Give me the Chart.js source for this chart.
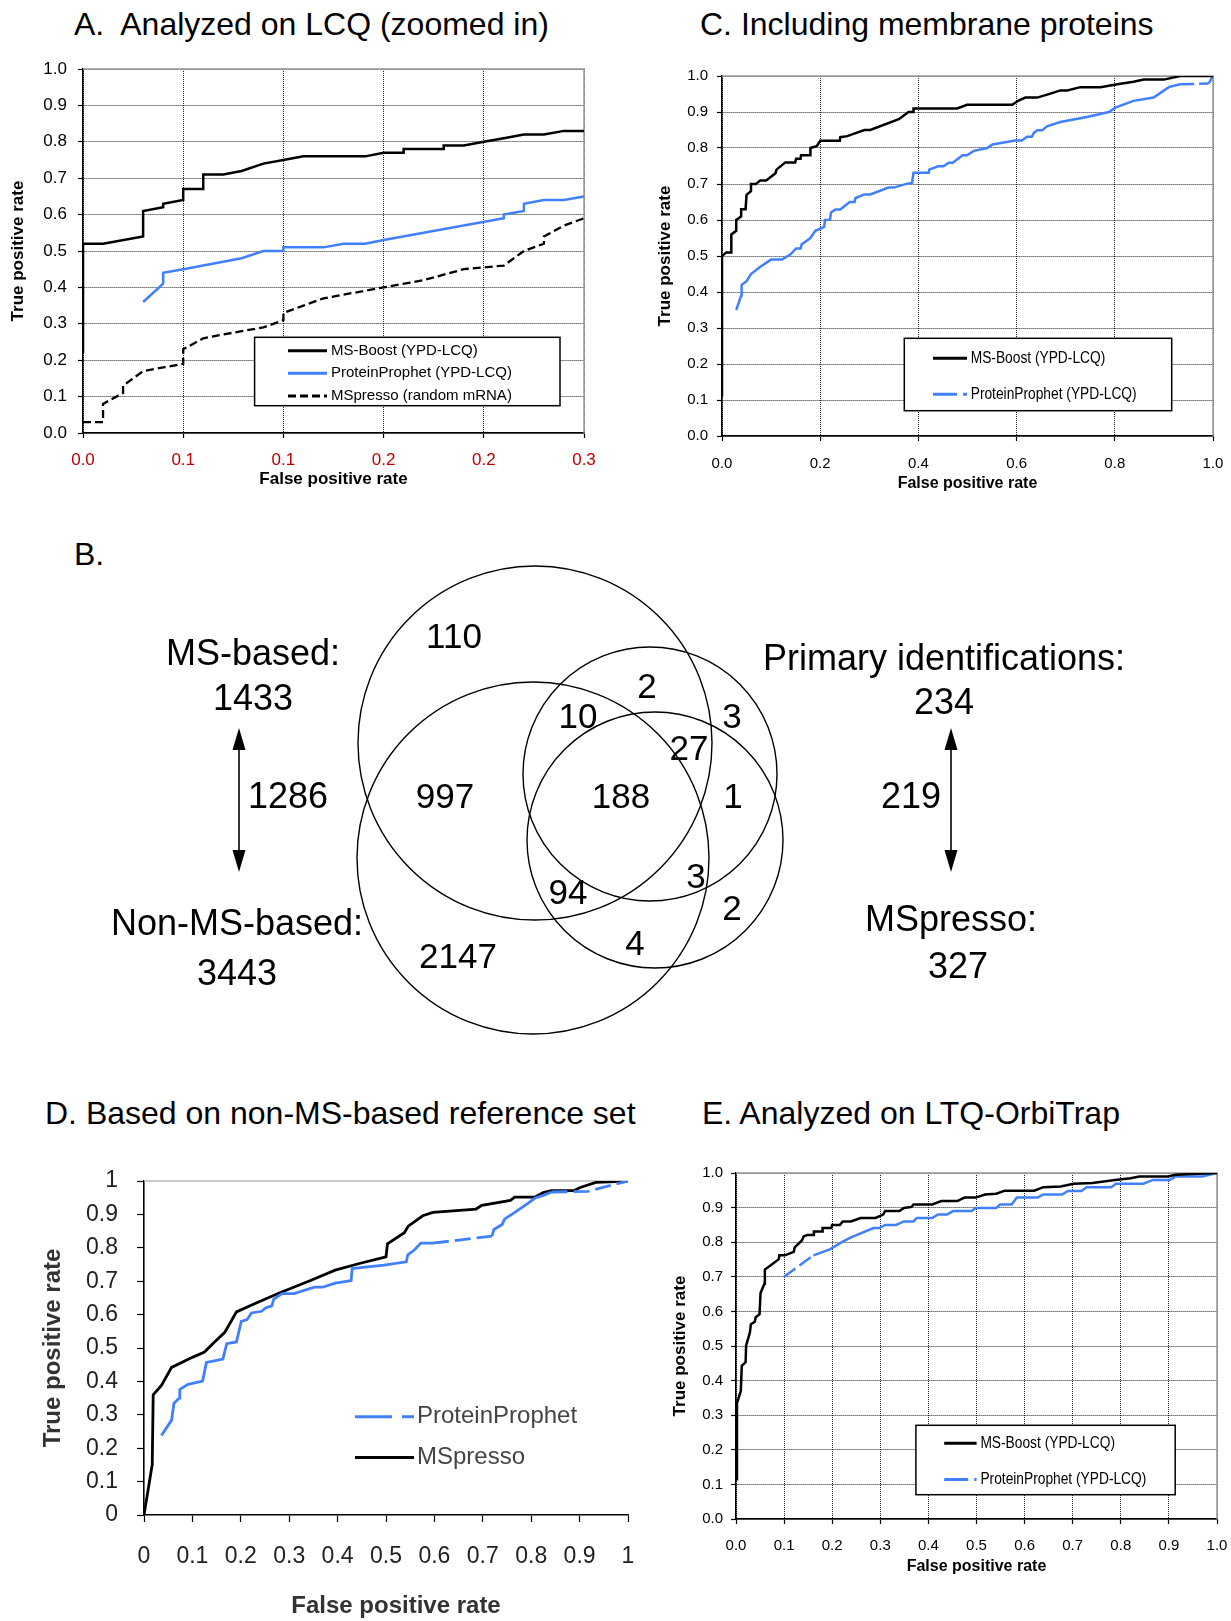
<!DOCTYPE html>
<html>
<head>
<meta charset="utf-8">
<script src="https://cdn.jsdelivr.net/npm/chart.js@4.4.1/dist/chart.umd.min.js"></script>
<style>
  body { margin: 0; background: #fff; }
  #page { position: relative; width: 1231px; height: 1621px; overflow: hidden;
          font-family: 'Liberation Sans', Arial, sans-serif; }
  canvas { position: absolute; }
  .ttl { position: absolute; font-size: 32px; line-height: 1; white-space: pre; color: #000; }
</style>
</head>
<body>
<div id="page">
  <div class="ttl" style="left:74px;top:8px">A.  Analyzed on LCQ (zoomed in)</div>
  <div class="ttl" style="left:700px;top:8px">C. Including membrane proteins</div>
  <div class="ttl" style="left:74px;top:538px">B.</div>
  <div class="ttl" style="left:45px;top:1097px">D. Based on non-MS-based reference set</div>
  <div class="ttl" style="left:702px;top:1097px">E. Analyzed on LTQ-OrbiTrap</div>
  <canvas id="chartA"></canvas>
  <canvas id="chartC"></canvas>
  <canvas id="venn"></canvas>
  <canvas id="chartD"></canvas>
  <canvas id="chartE"></canvas>
</div>
<script>
// ---- tick values / labels
const tprTicks = [0, 0.1, 0.2, 0.3, 0.4, 0.5, 0.6, 0.7, 0.8, 0.9, 1.0];
const tprLabels = ['0.0', '0.1', '0.2', '0.3', '0.4', '0.5', '0.6', '0.7', '0.8', '0.9', '1.0'];
const aFprTicks = [0, 0.06, 0.12, 0.18, 0.24, 0.3];
const aFprLabels = ['0.0', '0.1', '0.1', '0.2', '0.2', '0.3'];
const cFprTicks = [0, 0.2, 0.4, 0.6, 0.8, 1.0];
const cFprLabels = ['0.0', '0.2', '0.4', '0.6', '0.8', '1.0'];
const dLabels = ['0', '0.1', '0.2', '0.3', '0.4', '0.5', '0.6', '0.7', '0.8', '0.9', '1'];

// ---- A. Analyzed on LCQ (zoomed in)  [fpr, tpr]
const aBoost = [[0,0.22],[0,0.52],[0.012,0.52],[0.036,0.54],[0.036,0.61],[0.048,0.62],[0.048,0.63],[0.06,0.64],[0.06,0.67],[0.072,0.67],[0.072,0.71],[0.084,0.71],[0.095,0.72],[0.108,0.74],[0.12,0.75],[0.132,0.76],[0.169,0.76],[0.18,0.77],[0.192,0.77],[0.192,0.78],[0.216,0.78],[0.216,0.79],[0.228,0.79],[0.24,0.80],[0.252,0.81],[0.264,0.82],[0.276,0.82],[0.288,0.83],[0.3,0.83]];
const aProphet = [[0.036,0.36],[0.048,0.41],[0.048,0.44],[0.06,0.45],[0.095,0.48],[0.108,0.50],[0.12,0.50],[0.12,0.51],[0.144,0.51],[0.156,0.52],[0.169,0.52],[0.18,0.53],[0.252,0.59],[0.252,0.60],[0.264,0.61],[0.264,0.63],[0.276,0.64],[0.288,0.64],[0.3,0.65]];
const aMSpresso = [[0,0.03],[0.012,0.03],[0.012,0.08],[0.024,0.11],[0.024,0.13],[0.036,0.17],[0.048,0.18],[0.06,0.19],[0.06,0.23],[0.072,0.26],[0.095,0.28],[0.108,0.29],[0.12,0.31],[0.12,0.33],[0.132,0.35],[0.144,0.37],[0.156,0.38],[0.18,0.40],[0.204,0.42],[0.228,0.45],[0.24,0.455],[0.252,0.46],[0.264,0.50],[0.276,0.52],[0.276,0.54],[0.288,0.57],[0.3,0.59]];

// ---- C. Including membrane proteins
const cBoost = [[0,0.11],[0,0.50],[0.009,0.51],[0.019,0.51],[0.019,0.56],[0.029,0.57],[0.029,0.60],[0.039,0.61],[0.039,0.63],[0.048,0.63],[0.05,0.67],[0.059,0.68],[0.059,0.70],[0.069,0.70],[0.078,0.71],[0.09,0.71],[0.109,0.73],[0.111,0.74],[0.129,0.76],[0.149,0.76],[0.151,0.77],[0.16,0.77],[0.161,0.78],[0.18,0.78],[0.18,0.80],[0.193,0.805],[0.2,0.82],[0.24,0.82],[0.241,0.83],[0.255,0.833],[0.29,0.85],[0.302,0.85],[0.36,0.88],[0.38,0.90],[0.39,0.90],[0.39,0.91],[0.479,0.91],[0.499,0.92],[0.591,0.92],[0.604,0.932],[0.618,0.94],[0.642,0.94],[0.669,0.951],[0.689,0.96],[0.703,0.96],[0.73,0.969],[0.771,0.969],[0.805,0.977],[0.838,0.984],[0.859,0.99],[0.9,0.99],[0.933,1.0],[1,1.0]];
const cProphet = [[0.029,0.35],[0.039,0.39],[0.04,0.42],[0.05,0.43],[0.059,0.45],[0.078,0.47],[0.1,0.49],[0.122,0.49],[0.139,0.504],[0.151,0.521],[0.16,0.521],[0.162,0.532],[0.18,0.55],[0.19,0.57],[0.208,0.581],[0.21,0.60],[0.22,0.601],[0.222,0.621],[0.231,0.629],[0.241,0.629],[0.26,0.65],[0.27,0.65],[0.272,0.661],[0.29,0.671],[0.302,0.671],[0.339,0.69],[0.35,0.69],[0.377,0.701],[0.387,0.703],[0.39,0.731],[0.421,0.731],[0.422,0.74],[0.44,0.749],[0.451,0.749],[0.462,0.759],[0.47,0.759],[0.49,0.78],[0.499,0.78],[0.513,0.792],[0.54,0.80],[0.551,0.81],[0.597,0.821],[0.611,0.821],[0.621,0.831],[0.631,0.831],[0.635,0.842],[0.642,0.849],[0.652,0.849],[0.662,0.86],[0.689,0.872],[0.716,0.879],[0.743,0.886],[0.788,0.90],[0.801,0.912],[0.838,0.931],[0.879,0.94],[0.91,0.969],[0.933,0.977],[0.991,0.979],[1.0,1.0]];

// ---- D. Based on non-MS-based reference set
const dProphet = [[0.036,0.238],[0.057,0.284],[0.062,0.335],[0.073,0.35],[0.074,0.376],[0.091,0.391],[0.121,0.401],[0.129,0.457],[0.163,0.467],[0.171,0.513],[0.191,0.518],[0.201,0.58],[0.213,0.585],[0.222,0.605],[0.243,0.61],[0.251,0.62],[0.264,0.626],[0.268,0.646],[0.285,0.663],[0.31,0.663],[0.352,0.682],[0.369,0.682],[0.395,0.694],[0.428,0.702],[0.43,0.738],[0.462,0.743],[0.496,0.748],[0.542,0.758],[0.545,0.779],[0.559,0.794],[0.572,0.814],[0.597,0.814],[0.719,0.835],[0.723,0.855],[0.74,0.87],[0.745,0.886],[0.766,0.906],[0.791,0.931],[0.808,0.949],[0.825,0.957],[0.842,0.967],[0.917,0.969],[1.0,1.0]];
const dMSpresso = [[0,0],[0.017,0.151],[0.019,0.36],[0.036,0.388],[0.057,0.442],[0.1,0.472],[0.125,0.488],[0.142,0.513],[0.167,0.547],[0.18,0.58],[0.191,0.608],[0.226,0.631],[0.277,0.663],[0.344,0.702],[0.395,0.733],[0.445,0.753],[0.5,0.773],[0.503,0.812],[0.538,0.845],[0.546,0.865],[0.576,0.896],[0.597,0.906],[0.686,0.916],[0.698,0.927],[0.757,0.942],[0.766,0.952],[0.808,0.952],[0.825,0.965],[0.842,0.971],[0.888,0.971],[0.9,0.98],[0.917,0.988],[0.934,0.996],[1,1]];

// ---- E. Analyzed on LTQ-OrbiTrap
const eBoost = [[0,0.115],[0.002,0.335],[0.01,0.37],[0.012,0.443],[0.02,0.453],[0.021,0.501],[0.029,0.54],[0.031,0.563],[0.039,0.57],[0.041,0.583],[0.049,0.592],[0.051,0.653],[0.059,0.68],[0.06,0.721],[0.075,0.736],[0.089,0.751],[0.09,0.762],[0.102,0.762],[0.12,0.772],[0.122,0.785],[0.137,0.805],[0.141,0.817],[0.149,0.821],[0.161,0.821],[0.162,0.831],[0.179,0.831],[0.18,0.841],[0.198,0.841],[0.2,0.85],[0.216,0.85],[0.222,0.86],[0.239,0.86],[0.259,0.87],[0.29,0.87],[0.306,0.88],[0.31,0.89],[0.34,0.89],[0.349,0.899],[0.365,0.902],[0.369,0.909],[0.408,0.909],[0.427,0.919],[0.46,0.919],[0.475,0.929],[0.498,0.929],[0.518,0.938],[0.541,0.94],[0.559,0.949],[0.62,0.949],[0.639,0.959],[0.675,0.961],[0.702,0.969],[0.741,0.971],[0.788,0.98],[0.82,0.985],[0.839,0.99],[0.898,0.99],[0.914,0.995],[0.961,0.998],[1,1]];
const eProphet = [[0.1,0.70],[0.161,0.762],[0.196,0.78],[0.22,0.80],[0.239,0.814],[0.286,0.841],[0.298,0.841],[0.31,0.85],[0.333,0.85],[0.349,0.86],[0.369,0.86],[0.376,0.87],[0.408,0.87],[0.42,0.88],[0.439,0.88],[0.451,0.89],[0.49,0.89],[0.498,0.899],[0.541,0.899],[0.549,0.909],[0.573,0.909],[0.584,0.929],[0.627,0.929],[0.639,0.938],[0.678,0.938],[0.69,0.948],[0.718,0.948],[0.729,0.959],[0.78,0.959],[0.79,0.969],[0.847,0.969],[0.867,0.98],[0.902,0.98],[0.914,0.99],[0.969,0.99],[1,1]];

// ---- B. Venn diagram (page coordinates of the diagram)
const vennSets = ['MS-based', 'Non-MS-based', 'Primary identifications', 'MSpresso'];
const vennCx = [535, 533, 650, 655];
const vennCy = [743, 858, 774, 840];
const vennR = [177, 176, 127, 128];
const vennCounts = ['110', '2', '10', '3', '27', '997', '188', '1', '3', '94', '2', '4', '2147'];
const vennCountX = [454, 647, 578, 732, 689, 445, 621, 733, 696, 568, 732, 635, 458];
const vennCountY = [635, 685, 715, 715, 747, 795, 795, 795, 875, 891, 907, 942, 955];
const sideText = ['MS-based:', '1433', '1286', 'Non-MS-based:', '3443', 'Primary identifications:', '234', '219', 'MSpresso:', '327'];
const sideX = [253, 253, 288, 237, 237, 944, 944, 911, 951, 958];
const sideY = [652, 697, 795, 922, 972, 657, 701, 795, 918, 965];
const arrowX = [239, 951];
const arrowY = [728, 872];

const BLUE = 'rgb(64,128,255)';
const FONT = "'Liberation Sans', Arial, sans-serif";
Chart.defaults.font.family = FONT;
Chart.defaults.color = '#000';

// panels C and E use a condensed face in the original
function hasFont(name) {
  const c = document.createElement('canvas').getContext('2d');
  c.font = '40px monospace';
  const w0 = c.measureText('0.0 ABCabc').width;
  c.font = '40px "' + name + '", monospace';
  return c.measureText('0.0 ABCabc').width !== w0;
}
const HAS_NARROW = hasFont('Liberation Sans Narrow');
const NARROW = HAS_NARROW ? "'Liberation Sans Narrow', 'Liberation Sans', sans-serif" : FONT;
const NARROW_SIZE = HAS_NARROW ? 17 : 15;

// gray frame on top (and right) of plot area
const framePlugin = {
  id: 'frame',
  beforeDatasetsDraw(chart, args, o) {
    const { ctx, chartArea: a } = chart;
    ctx.save();
    ctx.strokeStyle = o.lineColor || '#999';
    ctx.lineWidth = 1.5;
    ctx.beginPath();
    ctx.moveTo(a.left, a.top);
    ctx.lineTo(a.right, a.top);
    if (o.right) ctx.lineTo(a.right, a.bottom);
    ctx.stroke();
    ctx.restore();
  }
};

// legend drawn inside the plot, like the original figures
const boxLegend = {
  id: 'boxLegend',
  afterDraw(chart, args, o) {
    const { ctx, chartArea: a } = chart;
    ctx.save();
    if (o.box) {
      ctx.fillStyle = '#fff';
      ctx.strokeStyle = '#000';
      ctx.lineWidth = 1.5;
      ctx.fillRect(a.left + o.box[0], a.top + o.box[1], o.box[2], o.box[3]);
      ctx.strokeRect(a.left + o.box[0], a.top + o.box[1], o.box[2], o.box[3]);
    }
    chart.data.datasets.forEach((ds, i) => {
      const y = a.top + o.rows[i];
      ctx.beginPath();
      ctx.setLineDash(ds.legendDash || []);
      ctx.strokeStyle = ds.borderColor;
      ctx.lineWidth = 3;
      ctx.moveTo(a.left + o.line[0], y);
      ctx.lineTo(a.left + o.line[1], y);
      ctx.stroke();
      ctx.setLineDash([]);
      ctx.fillStyle = o.textColor || '#000';
      ctx.font = o.fontSize + 'px ' + FONT;
      ctx.textBaseline = 'middle';
      ctx.save();
      ctx.translate(a.left + o.text, y);
      ctx.scale(o.squeeze || 1, 1);
      ctx.fillText(ds.label, 0, 0);
      ctx.restore();
    });
    ctx.restore();
  }
};

function series(label, pts, color, width, extra) {
  return Object.assign({
    label: label,
    data: pts.map(p => ({ x: p[0], y: p[1] })),
    borderColor: color,
    backgroundColor: color,
    borderWidth: width,
    pointRadius: 0,
    tension: 0,
    fill: false
  }, extra || {});
}

// Excel restarts the dash on every segment: only long segments look dashed
function longDash(minLen, dash) {
  return {
    borderDash: c => Math.hypot(c.p1.x - c.p0.x, c.p1.y - c.p0.y) > minLen ? dash : undefined
  };
}

function makeAxis(vals, labels, o, fitSize, horizontal) {
  return {
    type: 'linear',
    min: vals[0],
    max: vals[vals.length - 1],
    afterBuildTicks: s => { s.ticks = vals.map(v => ({ value: v })); },
    afterFit: s => { if (horizontal) s.height = fitSize; else s.width = fitSize; },
    ticks: {
      callback: (v, i) => labels[i],
      color: o.tickColor || '#000',
      font: { size: o.tickSize, family: o.tickFamily || FONT },
      padding: o.tickPad,
      autoSkip: false,
      maxRotation: 0,
      minRotation: 0
    },
    grid: {
      drawOnChartArea: o.grid,
      color: '#222',
      lineWidth: 1,
      drawTicks: true,
      tickLength: o.tickLen,
      tickColor: '#000',
      tickWidth: 1.2
    },
    border: { display: true, color: '#000', width: 1.6, dash: [1, 1] },
    title: {
      display: true,
      text: o.title,
      color: o.titleColor || '#000',
      font: { size: o.titleSize, weight: 'bold' },
      padding: 0
    }
  };
}

// rect = plot area on the page [left, top, right, bottom]
// top/right margins are kept larger than the tick-label padding Chart.js reserves
function rocChart(id, rect, pad, spec) {
  const cv = document.getElementById(id);
  const w = pad.l + rect[2] - rect[0] + pad.r;
  const h = pad.t + rect[3] - rect[1] + pad.b;
  cv.width = w;
  cv.height = h;
  cv.style.left = (rect[0] - pad.l) + 'px';
  cv.style.top = (rect[1] - pad.t) + 'px';
  cv.style.width = w + 'px';
  cv.style.height = h + 'px';
  return new Chart(cv, {
    type: 'line',
    data: { datasets: spec.datasets },
    options: {
      responsive: false,
      animation: false,
      events: [],
      layout: { padding: { left: 0, top: pad.t, right: pad.r, bottom: 0 } },
      scales: {
        x: makeAxis(spec.xTicks, spec.xLabels, spec.x, pad.b, true),
        y: makeAxis(spec.yTicks, spec.yLabels, spec.y, pad.l, false)
      },
      plugins: {
        legend: { display: false },
        tooltip: { enabled: false },
        frame: spec.frame,
        boxLegend: spec.legend
      }
    },
    plugins: [framePlugin, boxLegend]
  });
}

// A
rocChart('chartA', [83, 69, 584, 433], { l: 75, t: 36, r: 36, b: 57 }, {
  datasets: [
    series('MS-Boost (YPD-LCQ)', aBoost, '#000', 2.5),
    series('ProteinProphet (YPD-LCQ)', aProphet, BLUE, 2.5),
    series('MSpresso (random mRNA)', aMSpresso, '#000', 2.3, { borderDash: [8, 4], legendDash: [8, 4] })
  ],
  xTicks: aFprTicks, xLabels: aFprLabels, yTicks: tprTicks, yLabels: tprLabels,
  x: { tickSize: 17, tickColor: 'rgb(192,0,0)', tickPad: 12, tickLen: 5, grid: true, title: 'False positive rate', titleSize: 17 },
  y: { tickSize: 17, tickPad: 11, tickLen: 5, grid: true, title: 'True positive rate', titleSize: 17 },
  frame: { right: true },
  legend: { box: [171.6, 268.3, 305.4, 68.4], line: [205, 244], text: 248, rows: [281.7, 304.3, 327], fontSize: 15 }
});

// C
rocChart('chartC', [722, 76, 1213, 436], { l: 67, t: 36, r: 36, b: 57 }, {
  datasets: [
    series('MS-Boost (YPD-LCQ)', cBoost, '#000', 2.5),
    series('ProteinProphet (YPD-LCQ)', cProphet, BLUE, 2.5, { segment: longDash(25, [14, 5]), legendDash: [24, 6] })
  ],
  xTicks: cFprTicks, xLabels: cFprLabels, yTicks: tprTicks, yLabels: tprLabels,
  x: { tickSize: NARROW_SIZE, tickFamily: NARROW, tickPad: 14, tickLen: 5, grid: true, title: 'False positive rate', titleSize: 16 },
  y: { tickSize: NARROW_SIZE, tickFamily: NARROW, tickPad: 9, tickLen: 5, grid: true, title: 'True positive rate', titleSize: 17 },
  frame: { right: true },
  legend: { box: [182.3, 262.3, 267.4, 72.4], line: [211, 245], text: 248.7, rows: [282.3, 318.3], fontSize: 16, squeeze: 0.86 }
});

// D
rocChart('chartD', [144, 1181, 628, 1515], { l: 105, t: 40, r: 36, b: 106 }, {
  datasets: [
    series('ProteinProphet', dProphet, BLUE, 2.8, { segment: longDash(25, [16, 6]), legendDash: [37, 10] }),
    series('MSpresso', dMSpresso, '#000', 2.8)
  ],
  xTicks: tprTicks, xLabels: dLabels, yTicks: tprTicks, yLabels: dLabels,
  x: { tickSize: 23, tickColor: '#222', tickPad: 21, tickLen: 7, grid: false, title: '   False positive rate', titleSize: 24, titleColor: '#333' },
  y: { tickSize: 23, tickColor: '#222', tickPad: 19, tickLen: 7, grid: false, title: 'True positive rate', titleSize: 24, titleColor: '#333' },
  frame: { right: false, lineColor: '#bbb' },
  legend: { box: null, line: [211, 270], text: 273, rows: [235.8, 276.4], fontSize: 24, textColor: '#444' }
});

// E
rocChart('chartE', [736, 1173, 1217, 1519], { l: 66, t: 36, r: 36, b: 57 }, {
  datasets: [
    series('MS-Boost (YPD-LCQ)', eBoost, '#000', 2.5),
    series('ProteinProphet (YPD-LCQ)', eProphet, BLUE, 2.5, { segment: longDash(30, [14, 5]), legendDash: [24, 6] })
  ],
  xTicks: tprTicks, xLabels: tprLabels, yTicks: tprTicks, yLabels: tprLabels,
  x: { tickSize: NARROW_SIZE, tickFamily: NARROW, tickPad: 13, tickLen: 5, grid: true, title: 'False positive rate', titleSize: 16 },
  y: { tickSize: NARROW_SIZE, tickFamily: NARROW, tickPad: 8, tickLen: 5, grid: true, title: 'True positive rate', titleSize: 17 },
  frame: { right: true },
  legend: { box: [179.9, 252.3, 259.3, 69.4], line: [208.2, 240.6], text: 244.4, rows: [270.2, 306.4], fontSize: 16, squeeze: 0.86 }
});

// B: Venn circles as scatter points whose radius comes from the x scale
const vennText = {
  id: 'vennText',
  afterDatasetsDraw(chart) {
    const { ctx, scales: { x, y } } = chart;
    const put = (txt, px, py, size) => {
      ctx.font = size + 'px ' + FONT;
      ctx.fillText(txt, x.getPixelForValue(px), y.getPixelForValue(py) + size * 0.358);
    };
    ctx.save();
    ctx.fillStyle = '#000';
    ctx.textAlign = 'center';
    ctx.textBaseline = 'alphabetic';
    vennCounts.forEach((t, i) => put(t, vennCountX[i], vennCountY[i], 35));
    sideText.forEach((t, i) => put(t, sideX[i], sideY[i], 36));
    // double-headed arrows
    ctx.strokeStyle = '#000';
    ctx.lineWidth = 1.6;
    arrowX.forEach(ax => {
      const px = x.getPixelForValue(ax);
      const y0 = y.getPixelForValue(arrowY[0]);
      const y1 = y.getPixelForValue(arrowY[1]);
      ctx.beginPath();
      ctx.moveTo(px, y0 + 18);
      ctx.lineTo(px, y1 - 18);
      ctx.stroke();
      ctx.beginPath();
      ctx.moveTo(px, y0); ctx.lineTo(px - 6.5, y0 + 22); ctx.lineTo(px + 6.5, y0 + 22); ctx.closePath();
      ctx.moveTo(px, y1); ctx.lineTo(px - 6.5, y1 - 22); ctx.lineTo(px + 6.5, y1 - 22); ctx.closePath();
      ctx.fill();
    });
    ctx.restore();
  }
};

(function () {
  const cv = document.getElementById('venn');
  cv.width = 1231; cv.height = 530;
  cv.style.left = '0px'; cv.style.top = '520px';
  cv.style.width = '1231px'; cv.style.height = '530px';
  const radius = c => {
    const s = c.chart.scales.x;
    return s.getPixelForValue(vennR[c.dataIndex]) - s.getPixelForValue(0);
  };
  new Chart(cv, {
    type: 'scatter',
    data: {
      datasets: [{
        label: 'Venn',
        data: vennCx.map((cx, i) => ({ x: cx, y: vennCy[i], set: vennSets[i] })),
        pointRadius: radius,
        pointHoverRadius: radius,
        pointBackgroundColor: 'rgba(0,0,0,0)',
        pointBorderColor: '#000',
        pointBorderWidth: 1.4
      }]
    },
    options: {
      responsive: false,
      animation: false,
      events: [],
      layout: { padding: 0 },
      plugins: { legend: { display: false }, tooltip: { enabled: false } },
      scales: {
        x: { type: 'linear', min: 0, max: 1231, display: false },
        y: { type: 'linear', min: 520, max: 1050, reverse: true, display: false }
      }
    },
    plugins: [vennText]
  });
})();
</script>
</body>
</html>
